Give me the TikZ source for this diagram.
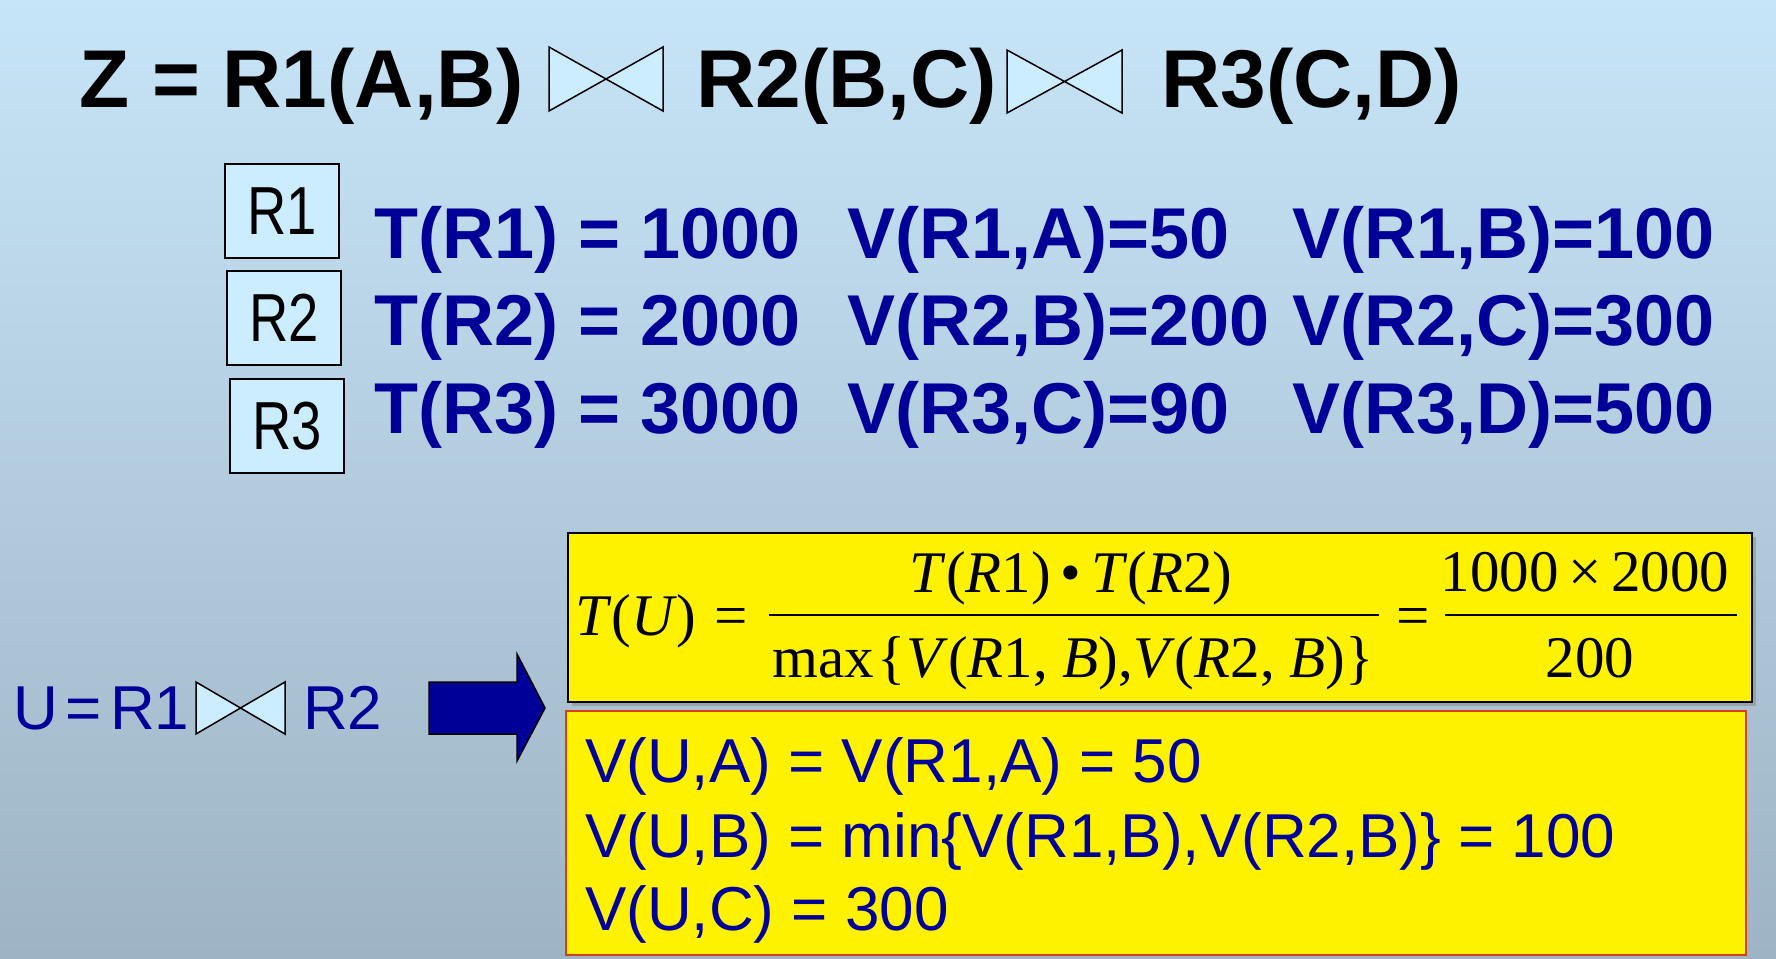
\documentclass[tikz,border=0pt]{standalone}
\usepackage{fontspec}
\setmainfont{Liberation Sans}
\newfontfamily\formfont{Liberation Serif}
\newfontfamily\boxfont{Liberation Sans}[FakeStretch=0.8]

\definecolor{navy}{RGB}{0,0,153}
\definecolor{boxblue}{RGB}{204,236,255}
\definecolor{skytop}{RGB}{199,229,248}
\definecolor{skybottom}{RGB}{158,180,196}
\definecolor{edgered}{RGB}{214,64,16}

\begin{document}
\begin{tikzpicture}[x=1pt,y=-1pt]
    \tikzset{
        title/.style={anchor=base west, inner sep=0pt, font=\fontsize{82}{82}\selectfont\bfseries},
        stat/.style={anchor=base west, inner sep=0pt, text=navy, font=\fontsize{72}{72}\selectfont\bfseries},
        relbox/.style={draw=black, line width=2pt, fill=boxblue, minimum width=114pt, minimum height=94pt, inner sep=0pt, font=\boxfont\fontsize{68}{68}\selectfont},
        bowtie/.style={draw=black, line width=1.5pt, fill=boxblue},
        plain/.style={anchor=base west, inner sep=0pt, text=navy, font=\fontsize{62}{62}\selectfont},
        formula/.style={anchor=base, inner sep=0pt, font=\formfont\fontsize{59}{59}\selectfont},
        fracbar/.style={line width=2.5pt},
    }

    % Background
    \useasboundingbox (0,0) rectangle (1776,958);
    \shade[top color=skytop, bottom color=skybottom] (0,0) rectangle (1776,958);

    % Join expression
    \node[title] (z)  at (79,107)   {Z = R1(A,B)};
    \draw[bowtie] (549,47) -- (549,111) -- (663,47) -- (663,111) -- cycle;
    \node[title] (zr2) at (696,107)  {R2(B,C)};
    \draw[bowtie] (1007,50) -- (1007,113) -- (1122,50) -- (1122,113) -- cycle;
    \node[title] (zr3) at (1161,107) {R3(C,D)};

    % Relations
    \node[relbox] (r1) at (282,211) {R1};
    \node[relbox] (r2) at (284,318) {R2};
    \node[relbox] (r3) at (287,426) {R3};

    % Statistics
    \node[stat] (t1)  at (374,258)  {T(R1) = 1000};
    \node[stat] (v1a) at (847,258)  {V(R1,A)=50};
    \node[stat] (v1b) at (1292,258) {V(R1,B)=100};
    \node[stat] (t2)  at (374,345)  {T(R2) = 2000};
    \node[stat] (v2b) at (847,345)  {V(R2,B)=200};
    \node[stat] (v2c) at (1292,345) {V(R2,C)=300};
    \node[stat] (t3)  at (374,433)  {T(R3) = 3000};
    \node[stat] (v3c) at (847,433)  {V(R3,C)=90};
    \node[stat] (v3d) at (1292,433) {V(R3,D)=500};

    % U = R1 join R2
    \node[plain] (u)   at (13,729)  {U\hspace{8pt}=\hspace{8pt}R1};
    \draw[bowtie] (196,682) -- (196,734) -- (285,682) -- (285,734) -- cycle;
    \node[plain] (ur2) at (303,729) {R2};
    \draw[fill=navy, line width=1.5pt] (429,682) -- (517,682) -- (517,654) -- (545,708)
        -- (517,761) -- (517,734) -- (429,734) -- cycle;

    % Size of U
    \fill[black!45, opacity=.6] (572,537) rectangle (1756,706);
    \draw[fill=yellow, line width=2pt] (568,533) rectangle (1752,702);
    \node[formula, anchor=base west] (tu) at (575,635) {\textit{T}(\textit{U})\hspace{18pt}=};
    \node[formula] (num1) at (1071,592) {\textit{T}(\textit{R}1)\,•\,\textit{T}(\textit{R}2)};
    \node[formula] (den1) at (1073,677) {max\kern4pt\{\textit{V}(\textit{R}1, \textit{B}),\textit{V}(\textit{R}2, \textit{B})\}};
    \draw[fracbar] (769,615) -- (1379,615);
    \node[formula] (eq)   at (1413,635) {=};
    \node[formula] (num2) at (1585,591) {1000\,×\,2000};
    \node[formula] (den2) at (1590,677) {200};
    \draw[fracbar] (1445,615) -- (1737,615);

    % Values of U
    \draw[fill=yellow, draw=edgered, line width=2pt] (566,711) rectangle (1746,955);
    \node[plain] (vua) at (585,782) {V(U,A) = V(R1,A) = 50};
    \node[plain] (vub) at (585,857) {V(U,B) = min\{V(R1,B),V(R2,B)\} = 100};
    \node[plain] (vuc) at (585,930) {V(U,C) = 300};
\end{tikzpicture}
\end{document}
